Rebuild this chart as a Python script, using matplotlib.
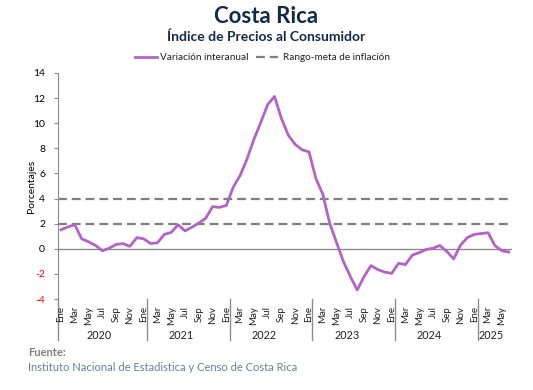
import matplotlib
matplotlib.use('Agg')
import matplotlib.pyplot as plt

plt.rcParams['font.family'] = ['Lato', 'DejaVu Sans']

# variacion interanual del IPC, ene 2020 - jun 2025
meses = ['Ene', 'Feb', 'Mar', 'Abr', 'May', 'Jun', 'Jul', 'Ago', 'Sep', 'Oct', 'Nov', 'Dic']
anios = ['2020', '2021', '2022', '2023', '2024', '2025']
ipc = [
  1.52, 1.74, 1.92, 0.80, 0.56, 0.28, -0.15, 0.05, 0.35, 0.42, 0.20, 0.89,   # 2020
  0.80, 0.43, 0.48, 1.15, 1.31, 1.92, 1.43, 1.72, 2.05, 2.43, 3.36, 3.30,    # 2021
  3.46, 4.91, 5.84, 7.15, 8.71, 10.06, 11.48, 12.13, 10.37, 9.04, 8.31, 7.88,  # 2022
  7.72, 5.60, 4.35, 2.05, 0.50, -1.01, -2.20, -3.27, -2.20, -1.33, -1.65, -1.85,  # 2023
  -1.95, -1.15, -1.25, -0.50, -0.30, -0.05, 0.05, 0.27, -0.20, -0.80, 0.30, 0.90,  # 2024
  1.15, 1.22, 1.28, 0.25, -0.15, -0.25,  # 2025
]
meta_inf = 2
meta_sup = 4

n = len(ipc)
x = list(range(n))

fig = plt.figure(figsize=(5.33, 3.9), dpi=100)
ax = fig.add_axes([0.108, 0.233, 0.853, 0.58])

ax.plot(x, ipc, color='#B462C8', lw=2.0, solid_joinstyle='round', zorder=3)
ax.hlines([meta_inf, meta_sup], -0.5, n - 1.0, colors='#7f7f7f', linestyles=(0, (4, 2.2)), lw=1.6, zorder=2)
ax.axhline(0, color='#8c8c8c', lw=1.0, zorder=1)

ax.set_xlim(-0.5, n - 0.5)
ax.set_ylim(-4, 14)
ax.set_yticks(range(-4, 15, 2))
ax.set_yticklabels([str(v) for v in range(-4, 15, 2)], fontsize=7.5)
for lbl in ax.get_yticklabels():
  if lbl.get_text().startswith('-'):
    lbl.set_color('red')
ax.tick_params(axis='y', length=3, width=0.8, color='#8c8c8c', pad=6)
ax.set_ylabel('Porcentajes', fontsize=7.5, labelpad=-2)

for s in ['top', 'right', 'bottom']:
  ax.spines[s].set_visible(False)
ax.spines['left'].set_color('#8c8c8c')

# eje de categorias de dos niveles
ax.set_xticks([])
tr = ax.get_xaxis_transform()
for i in range(0, n, 2):
  ax.text(i, -0.03, meses[i % 12], transform=tr, rotation=90, ha='center', va='top', fontsize=7, color='#222222')
for k, a in enumerate(anios):
  ini = k * 12
  fin = min(ini + 11, n - 1)
  ax.text((ini + fin) / 2, -0.16, a, transform=tr, ha='center', va='center', fontsize=7.8, color='#222222')
for k in range(1, len(anios)):
  xs = k * 12 + 0.5
  ax.plot([xs, xs], [0.0, -0.18], transform=tr, color='#8c8c8c', lw=1.0, clip_on=False)
ax.plot([-0.5, -0.5], [0.0, -0.18], transform=tr, color='#8c8c8c', lw=1.0, clip_on=False)

fig.text(0.5, 0.958, 'Costa Rica', ha='center', va='center', fontsize=16, fontweight='bold', color='#13294B')
fig.text(0.5, 0.907, 'Índice de Precios al Consumidor', ha='center', va='center', fontsize=10, fontweight='bold', color='#13294B')

# leyenda
lx = 0.253
ly = 0.853
fig.add_artist(plt.Line2D([lx, lx + 0.041], [ly, ly], color='#B462C8', lw=2.0))
fig.text(lx + 0.047, ly, 'Variación interanual', ha='left', va='center', fontsize=7.2, color='#222222')
fig.add_artist(plt.Line2D([0.481, 0.522], [ly, ly], color='#7f7f7f', lw=1.6, linestyle=(0, (4, 2.2))))
fig.text(0.531, ly, 'Rango-meta de inflación', ha='left', va='center', fontsize=7.2, color='#222222')

fig.text(0.053, 0.097, 'Fuente:', ha='left', va='center', fontsize=8, fontweight='bold', color='#808080')
fig.text(0.053, 0.058, 'Instituto Nacional de Estadistica y Censo de Costa Rica', ha='left', va='center', fontsize=8, color='#6A7F99')

fig.savefig('out.png', dpi=100)
